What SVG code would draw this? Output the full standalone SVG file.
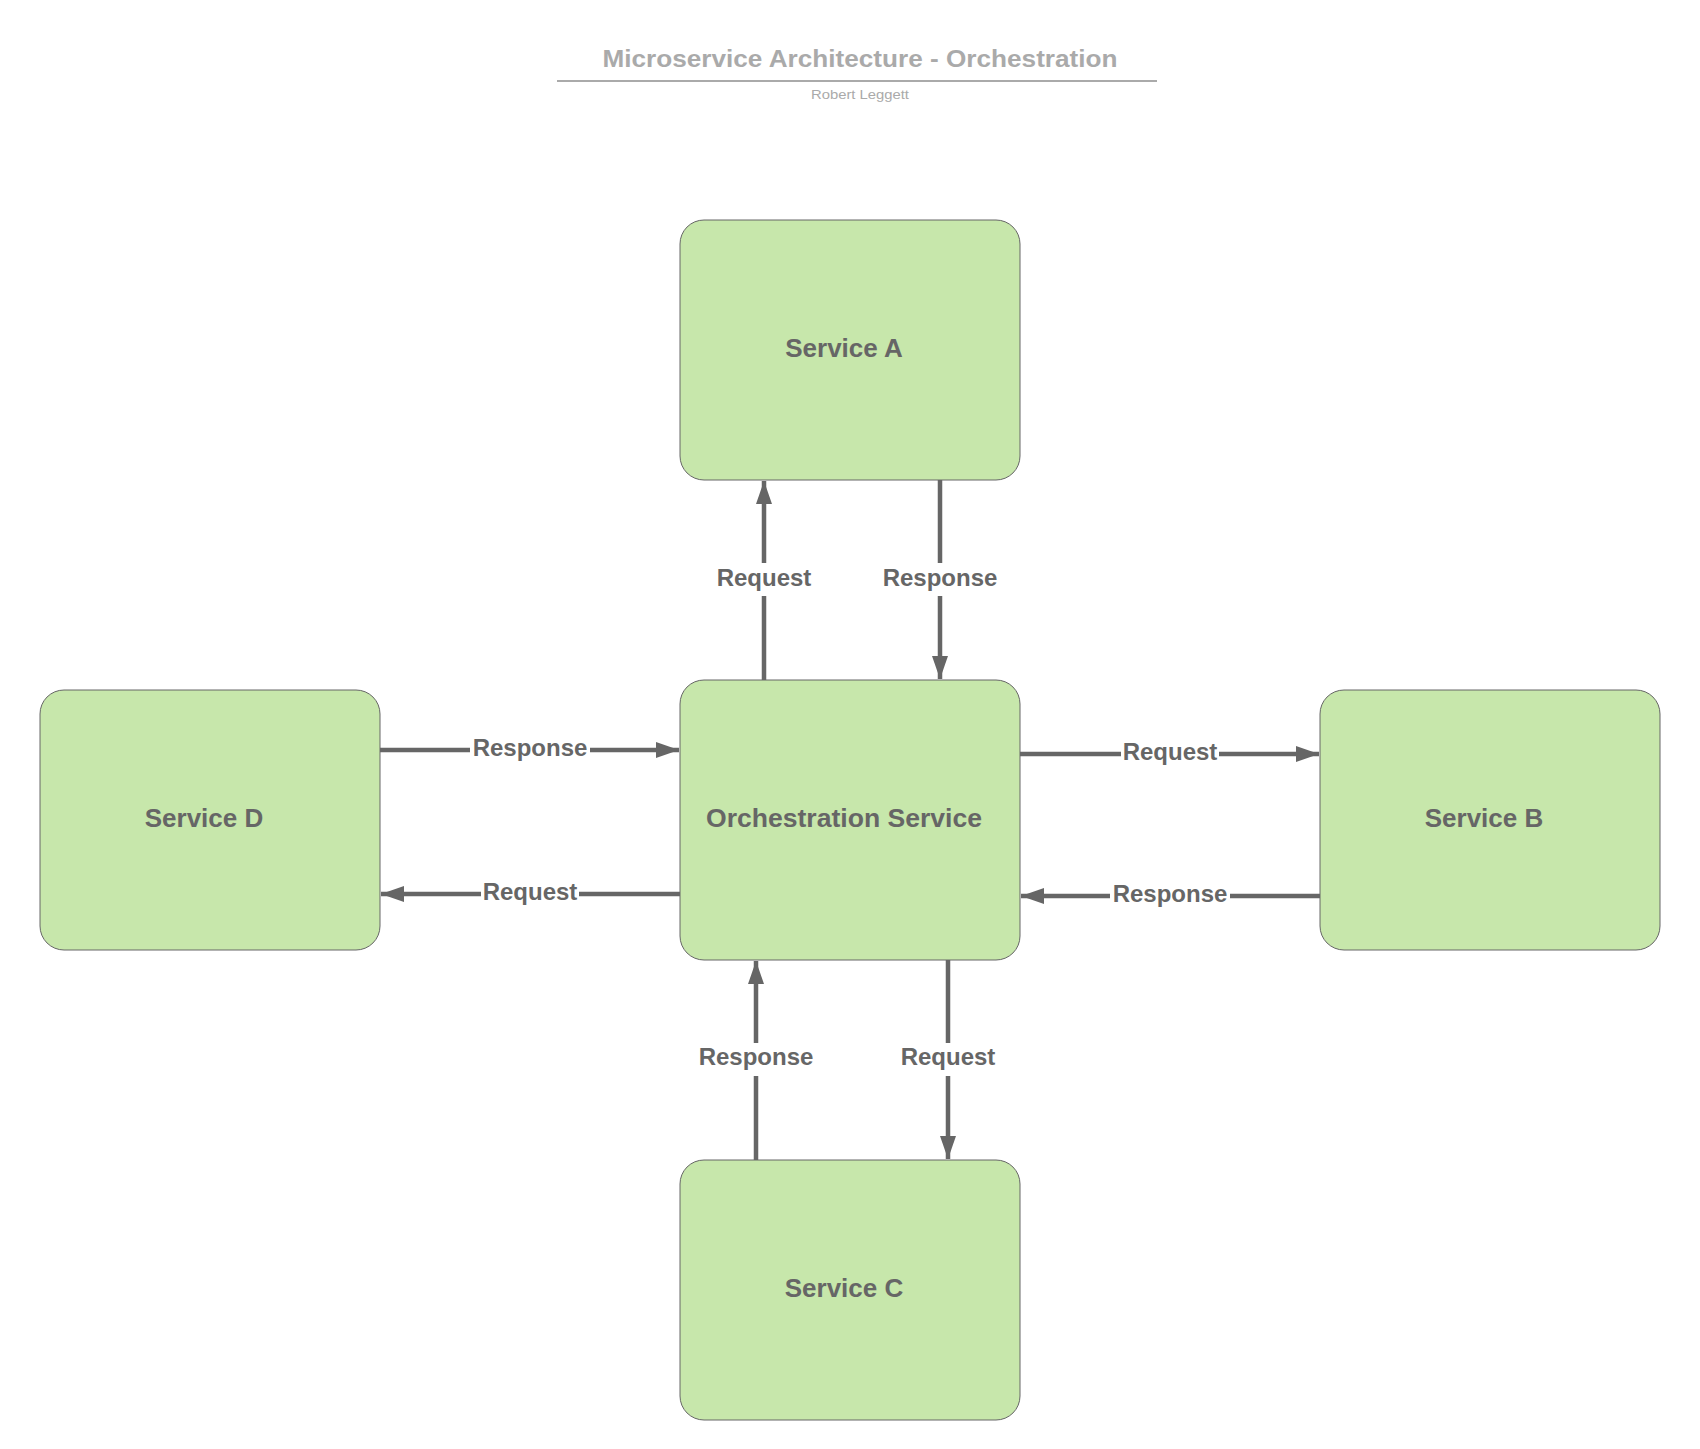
<svg xmlns="http://www.w3.org/2000/svg" width="1700" height="1449" viewBox="0 0 1700 1449">
<defs>
<marker id="ah" markerUnits="userSpaceOnUse" markerWidth="24" markerHeight="18" refX="23" refY="9" orient="auto">
<path d="M0,1 L23,9 L0,17 Z" fill="#666666"/>
</marker>
<style>
.node{fill:#c7e7ab;stroke:#666666;stroke-width:1}
.nt{font-family:"Liberation Sans",Arial,sans-serif;font-weight:bold;font-size:26px;fill:#666666;text-anchor:middle}
.edge{stroke:#666666;stroke-width:4.5;fill:none;marker-end:url(#ah)}
.lbl{font-family:"Liberation Sans",Arial,sans-serif;font-weight:bold;font-size:24px;fill:#666666;text-anchor:middle}
.bg{fill:#ffffff}
</style>
</defs>
<rect width="1700" height="1449" fill="#ffffff"/>
<g id="title">
<text x="860" y="67" font-family="Liberation Sans,Arial,sans-serif" font-weight="bold" font-size="23" fill="#aaaaaa" text-anchor="middle" textLength="515" lengthAdjust="spacingAndGlyphs">Microservice Architecture - Orchestration</text>
<line x1="557" y1="81" x2="1157" y2="81" stroke="#aaaaaa" stroke-width="2"/>
<text x="860" y="99" font-family="Liberation Sans,Arial,sans-serif" font-size="13" fill="#aaaaaa" text-anchor="middle" textLength="98" lengthAdjust="spacingAndGlyphs">Robert Leggett</text>
</g>
<g id="service-a"><rect class="node" x="680" y="220" width="340" height="260" rx="24"/><text class="nt" x="844" y="357">Service A</text></g>
<g id="orchestration"><rect class="node" x="680" y="680" width="340" height="280" rx="24"/><text class="nt" x="844" y="827" textLength="276" lengthAdjust="spacingAndGlyphs">Orchestration Service</text></g>
<g id="service-b"><rect class="node" x="1320" y="690" width="340" height="260" rx="24"/><text class="nt" x="1484" y="827">Service B</text></g>
<g id="service-c"><rect class="node" x="680" y="1160" width="340" height="260" rx="24"/><text class="nt" x="844" y="1297">Service C</text></g>
<g id="service-d"><rect class="node" x="40" y="690" width="340" height="260" rx="24"/><text class="nt" x="204" y="827">Service D</text></g>
<g id="connectors">
<line class="edge" x1="764" y1="680" x2="764" y2="481"/>
<rect class="bg" x="712" y="563" width="104" height="33"/>
<text class="lbl" x="764" y="586">Request</text>
<line class="edge" x1="940" y1="480" x2="940" y2="679"/>
<rect class="bg" x="878" y="563" width="124" height="33"/>
<text class="lbl" x="940" y="586">Response</text>
<line class="edge" x1="380" y1="750" x2="679" y2="750"/>
<rect class="bg" x="470" y="736" width="120" height="28"/>
<text class="lbl" x="530" y="756">Response</text>
<line class="edge" x1="680" y1="894" x2="381" y2="894"/>
<rect class="bg" x="481" y="880" width="98" height="28"/>
<text class="lbl" x="530" y="900">Request</text>
<line class="edge" x1="1020" y1="754" x2="1319" y2="754"/>
<rect class="bg" x="1121" y="740" width="98" height="28"/>
<text class="lbl" x="1170" y="760">Request</text>
<line class="edge" x1="1320" y1="896" x2="1021" y2="896"/>
<rect class="bg" x="1110" y="882" width="120" height="28"/>
<text class="lbl" x="1170" y="902">Response</text>
<line class="edge" x1="756" y1="1160" x2="756" y2="961"/>
<rect class="bg" x="694" y="1043" width="124" height="33"/>
<text class="lbl" x="756" y="1065">Response</text>
<line class="edge" x1="948" y1="960" x2="948" y2="1159"/>
<rect class="bg" x="896" y="1043" width="104" height="33"/>
<text class="lbl" x="948" y="1065">Request</text>
</g>
</svg>
